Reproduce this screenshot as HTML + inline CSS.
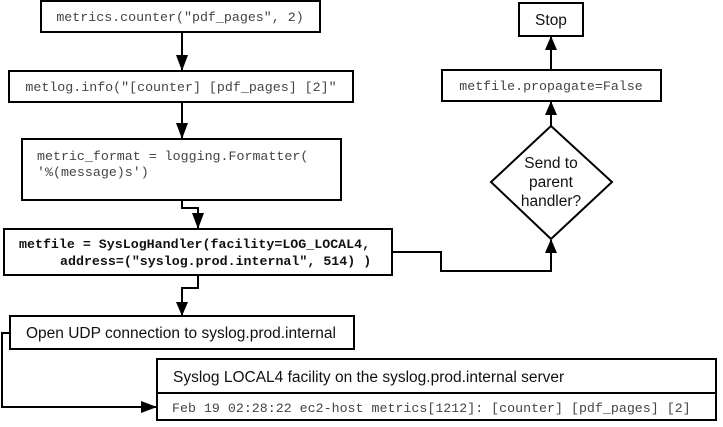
<!DOCTYPE html>
<html><head><style>
body{margin:0;background:#fff}
svg{display:block}
.m{font-family:"Liberation Mono",monospace;font-size:13.3px;fill:#444}
.b{font-family:"Liberation Mono",monospace;font-size:13.3px;font-weight:bold;fill:#111}
.s{font-family:"Liberation Sans",sans-serif;font-size:15.5px;fill:#111}
</style></head><body>
<svg width="723" height="427" viewBox="0 0 723 427" xmlns="http://www.w3.org/2000/svg">
<defs><marker id="a" markerWidth="14" markerHeight="12" refX="13" refY="6" orient="auto" markerUnits="userSpaceOnUse"><path d="M0,0 L14,6 L0,12 z" fill="#000"/></marker>
<marker id="h" markerWidth="16" markerHeight="12" refX="15" refY="6" orient="auto" markerUnits="userSpaceOnUse"><path d="M0,0 L16,6 L0,12 z" fill="#000"/></marker></defs>
<g fill="none" stroke="#000" stroke-width="2">
<rect x="41" y="1" width="279" height="31"/>
<rect x="9" y="71" width="344" height="31"/>
<rect x="22" y="139" width="319" height="61"/>
<rect x="4" y="229" width="388" height="46"/>
<rect x="519" y="3" width="64" height="33"/>
<rect x="442" y="70" width="219" height="31"/>
<path d="M551,126 L612,182 L551,239 L491,182 Z"/>
<rect x="10" y="316" width="344" height="33"/>
<rect x="157" y="359" width="559" height="61"/>
<line x1="157" y1="393" x2="716" y2="393"/>
<path d="M182,32 V70" marker-end="url(#h)"/>
<path d="M182,102 V138" marker-end="url(#h)"/>
<path d="M182,200 V208 H198 V228" marker-end="url(#h)"/>
<path d="M392,252 H441 V271 H551 V240" marker-end="url(#a)"/>
<path d="M551,126 V102" marker-end="url(#a)"/>
<path d="M551,70 V37" marker-end="url(#a)"/>
<path d="M198,275 V288 H182 V315" marker-end="url(#a)"/>
<path d="M10,333 H2 V407 H156" marker-end="url(#h)"/>
</g>
<text class="m" x="180" y="21" text-anchor="middle">metrics.counter("pdf_pages", 2)</text>
<text class="m" x="181" y="91" text-anchor="middle">metlog.info("[counter] [pdf_pages] [2]"</text>
<text class="m" x="37" y="160">metric_format = logging.Formatter(</text>
<text class="m" x="37" y="176">'%(message)s')</text>
<text class="b" x="19" y="248">metfile = SysLogHandler(facility=LOG_LOCAL4,</text>
<text class="b" x="60" y="265">address=("syslog.prod.internal", 514) )</text>
<text class="s" x="551" y="25" text-anchor="middle">Stop</text>
<text class="m" x="551" y="90" text-anchor="middle">metfile.propagate=False</text>
<text class="s" x="551" y="168" text-anchor="middle">Send to</text>
<text class="s" x="551" y="187" text-anchor="middle">parent</text>
<text class="s" x="551" y="206" text-anchor="middle">handler?</text>
<text class="s" x="26" y="338">Open UDP connection to syslog.prod.internal</text>
<text class="s" x="173" y="382">Syslog LOCAL4 facility on the syslog.prod.internal server</text>
<text class="m" x="172" y="412">Feb 19 02:28:22 ec2-host metrics[1212]: [counter] [pdf_pages] [2]</text>
</svg>
</body></html>
